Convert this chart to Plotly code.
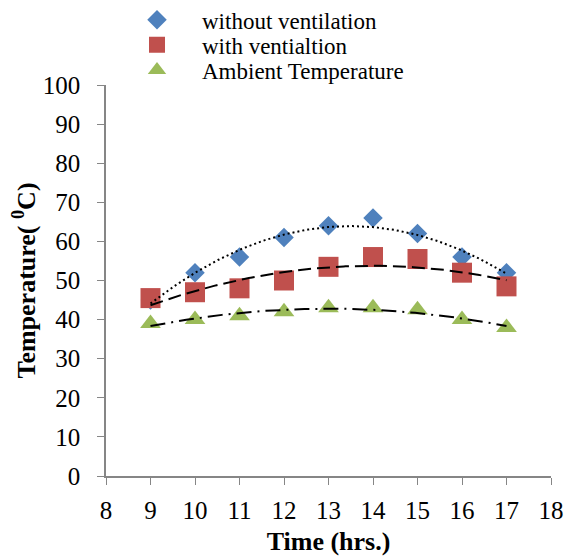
import numpy as np
import plotly.graph_objects as go

hours = [9, 10, 11, 12, 13, 14, 15, 16, 17]
without_vent = [45, 52, 56, 61, 64, 66, 62, 56, 52]
with_vent = [45.5, 47, 48, 50, 53.5, 56, 55.5, 52, 48.5]
ambient = [39, 40, 41, 42, 43, 43, 42.5, 40, 38]

x_ticks = list(range(8, 19))
y_ticks = list(range(0, 101, 10))

series = [
    ("without ventilation", without_vent, "#4F81BD", "diamond", 15, "2px,3px", "legend", 1.1667),
    ("with ventialtion", with_vent, "#C0504D", "square", 20, "13px,6px", "legend2", 1.1026),
    ("Ambient Temperature", ambient, "#9BBB59", "triangle-up", 18, "15px,6px,2px,6px", "legend3", 1.0385),
]

serif = "Liberation Serif"
fig = go.Figure()
xs = np.linspace(min(hours), max(hours), 200)
for name, vals, color, sym, size, dash, leg, ly in series:
    fig.add_trace(go.Scatter(
        x=hours, y=vals, mode="markers", name=name, legend=leg,
        marker=dict(symbol=sym, size=size, color=color, line=dict(width=0)),
    ))
for name, vals, color, sym, size, dash, leg, ly in series:
    coef = np.polyfit(hours, vals, 2)
    fig.add_trace(go.Scatter(
        x=xs, y=np.polyval(coef, xs), mode="lines", showlegend=False,
        line=dict(color="black", width=2, dash=dash), hoverinfo="skip",
    ))

legend_common = dict(x=0.0135, xanchor="left", yanchor="middle",
                     font=dict(family=serif, size=23, color="black"),
                     itemwidth=80, bgcolor="rgba(0,0,0,0)")
legends = {}
for s in series:
    legends[s[6]] = dict(legend_common, y=s[7])

axis_font = dict(family=serif, size=25, color="black")
title_font = dict(family=serif, size=26, color="black")
fig.update_layout(
    width=568, height=548,
    margin=dict(l=98, r=25, t=77, b=80, autoexpand=False),
    paper_bgcolor="white", plot_bgcolor="white",
    font=dict(family=serif, color="black"),
    showlegend=True,
    **legends,
    xaxis=dict(range=[8, 18], tickvals=x_ticks, ticks="outside", ticklen=7,
               tickcolor="#868686", showline=True, linecolor="#868686", linewidth=1.5,
               showgrid=False, zeroline=False, tickfont=axis_font, ticklabelstandoff=4,
               title=dict(text="<b>Time (hrs.)</b>", font=title_font, standoff=9)),
    yaxis=dict(range=[0, 100], tickvals=y_ticks, ticks="outside", ticklen=7,
               tickcolor="#868686", showline=True, linecolor="#868686", linewidth=1.5,
               showgrid=False, zeroline=False, tickfont=axis_font, ticklabelstandoff=12,
               title=dict(text="<b>Temperature( <sup>0</sup>C)</b>", font=title_font, standoff=1)),
)

fig.write_html("out.html")
